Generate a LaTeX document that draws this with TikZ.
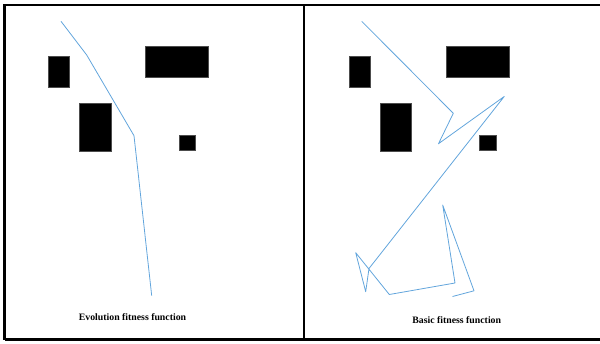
\documentclass[tikz,border=0pt]{standalone}
\usepackage{xcolor}
\usepackage{fontspec}
\setmainfont{Liberation Serif}
\usepackage{tikz}
\usetikzlibrary{positioning}
\definecolor{routeblue}{RGB}{98,165,220}
\tikzset{obstacle/.style={fill=black, draw=black!70, line width=0.4pt}}
\tikzset{route/.style={draw=routeblue, line width=0.8pt, line join=round}}
\tikzset{panelframe/.style={draw=black, line width=2.6pt}}
\tikzset{caption/.style={font=\fontsize{9.8}{11}\selectfont\bfseries, text=black}}

\begin{document}
\begin{tikzpicture}[x=1pt, y=-1pt]

\useasboundingbox (0,0) rectangle (600,343);

% Panel frames (the right side is cut off)
\draw[panelframe] (4.5,339.5) -- (4.5,5) -- (600,5);
\draw[panelframe] (4.5,339.5) -- (600,339.5);
\draw[panelframe] (304,5) -- (304,339.5);

% Obstacles in the left panel
\fill[obstacle] (48.3,56) rectangle (69.3,87.3);
\fill[obstacle] (145,45.7) rectangle (208.3,77.3);
\fill[obstacle] (79.3,102.7) rectangle (110.7,151);
\fill[obstacle] (179,134.7) rectangle (195.3,150.3);

% Obstacles in the right panel
\fill[obstacle] (348.7,56) rectangle (370,87.3);
\fill[obstacle] (445.7,45.7) rectangle (509,77.3);
\fill[obstacle] (380,102.7) rectangle (411.3,151);
\fill[obstacle] (479.3,134.7) rectangle (496,150.3);

% Path found with the evolution fitness function
\draw[route] (61,21.3) -- (86.7,55) -- (134,135.7) -- (151.7,295.7);

% Path found with the basic fitness function
\draw[route] (361.7,21.3) -- (453.3,113.3) -- (438.5,143.7) -- (504.2,96.5)
  -- (369,268.5) -- (365.7,291.7) -- (355.7,252.7) -- (389.3,294.5)
  -- (455,283) -- (442.7,205) -- (474,290.8) -- (452.5,296.5);

% Captions
\node[caption] (evolabel) at (132.5,316.7) {Evolution fitness function};
\node[caption] (basiclabel) at (456.7,320) {Basic fitness function};

\end{tikzpicture}
\end{document}
